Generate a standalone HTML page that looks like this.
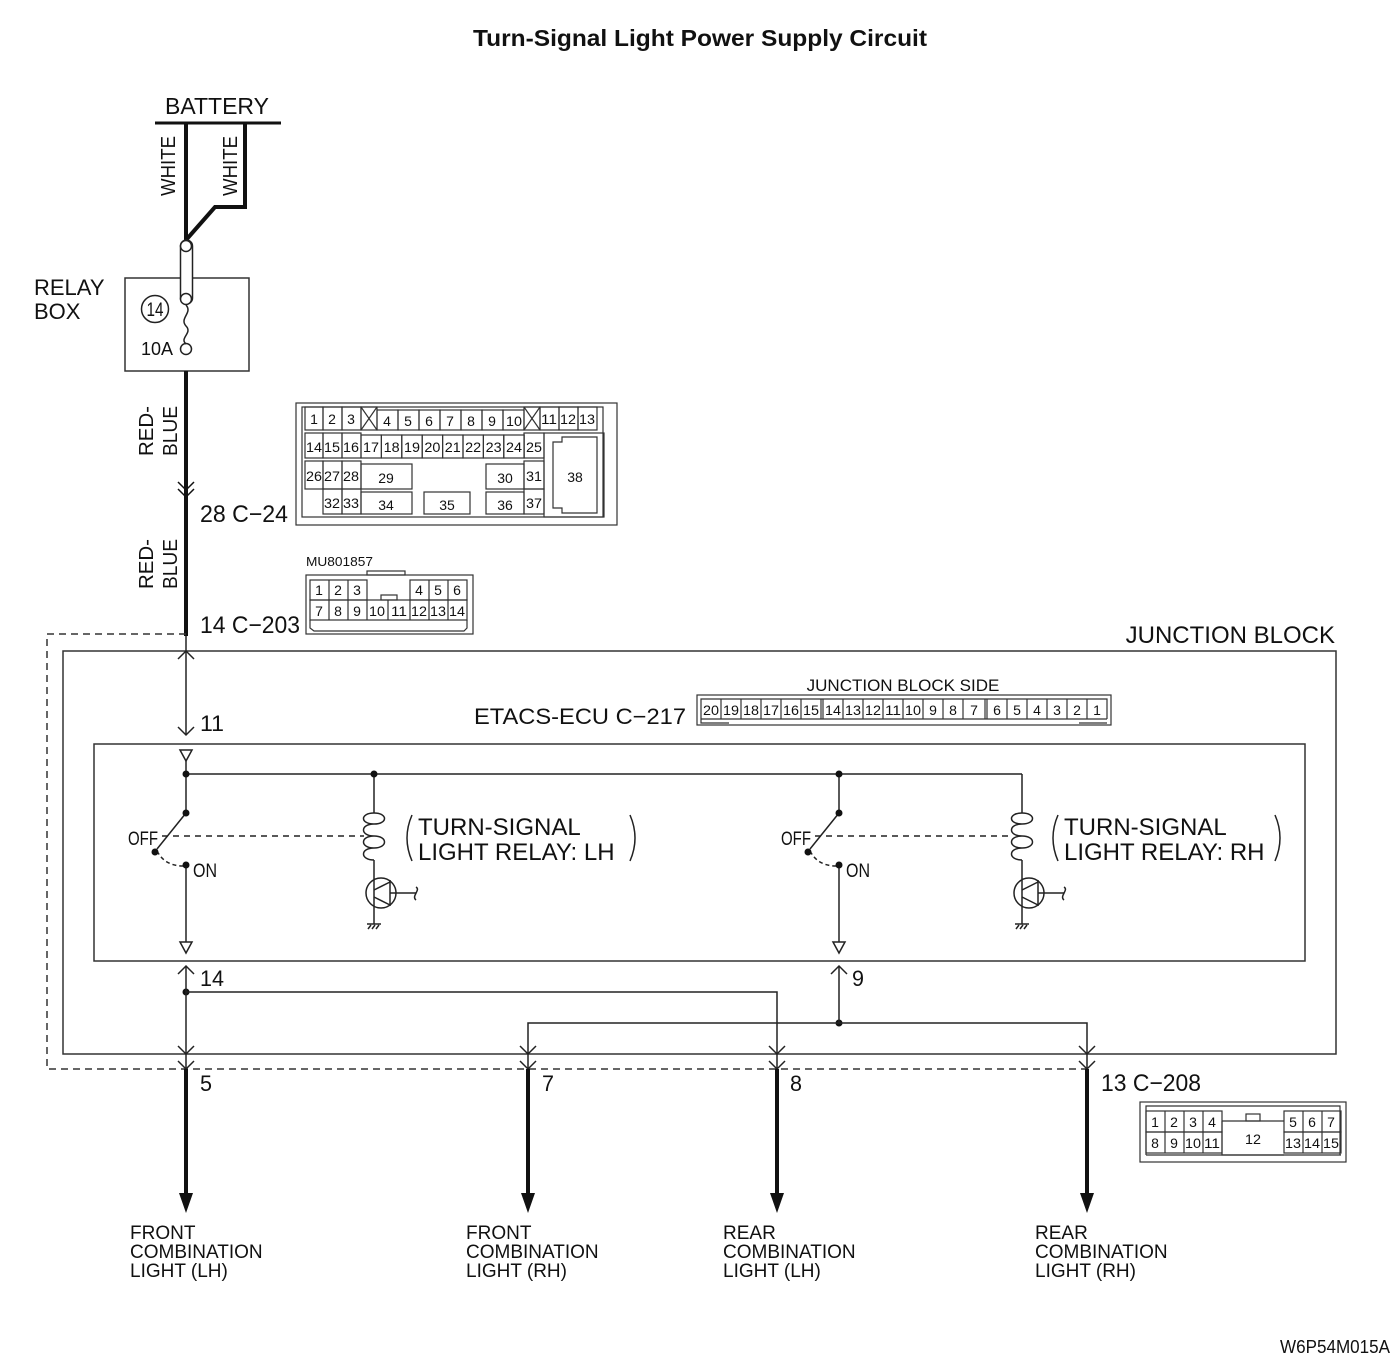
<!DOCTYPE html>
<html><head><meta charset="utf-8"><style>
html,body{margin:0;padding:0;background:#fff}
svg{display:block}
text{font-family:"Liberation Sans",sans-serif;fill:#111}
.c{font-size:14px}
</style></head><body>
<svg width="1400" height="1364" viewBox="0 0 1400 1364" xmlns="http://www.w3.org/2000/svg">
<text x="473" y="46" font-size="23" font-weight="bold" textLength="454" lengthAdjust="spacingAndGlyphs">Turn-Signal Light Power Supply Circuit</text>

<!-- battery -->
<text x="217" y="114" text-anchor="middle" font-size="23">BATTERY</text>
<line x1="155" y1="123" x2="281" y2="123" stroke="#111" stroke-width="3"/>
<polyline points="186,123 186,246" stroke="#111" stroke-width="4" fill="none"/>
<polyline points="245,123 245,207 215,207 186,240" stroke="#111" stroke-width="4" fill="none"/>
<text transform="translate(175,196) rotate(-90)" font-size="20" textLength="60" lengthAdjust="spacingAndGlyphs">WHITE</text>
<text transform="translate(237,196) rotate(-90)" font-size="20" textLength="60" lengthAdjust="spacingAndGlyphs">WHITE</text>

<!-- relay box -->
<text x="34" y="295" font-size="22">RELAY</text>
<text x="34" y="319" font-size="22">BOX</text>
<rect x="125" y="278" width="124" height="93" fill="none" stroke="#333" stroke-width="1.5"/>
<rect x="180.5" y="240" width="12" height="64" rx="6" fill="#fff" stroke="#222" stroke-width="1.5"/>
<circle cx="186" cy="246" r="5.5" fill="#fff" stroke="#222" stroke-width="1.5"/>
<circle cx="186" cy="299" r="5.5" fill="#fff" stroke="#222" stroke-width="1.5"/>
<circle cx="186" cy="349" r="5.5" fill="#fff" stroke="#222" stroke-width="1.5"/>
<path d="M186,305 C193,313 179,318 186,326 C193,333 179,338 186,344" fill="none" stroke="#222" stroke-width="1.5"/>
<circle cx="155" cy="309" r="13.5" fill="none" stroke="#222" stroke-width="1.5"/>
<text x="155" y="316" text-anchor="middle" font-size="19" textLength="17" lengthAdjust="spacingAndGlyphs">14</text>
<text x="141" y="355" font-size="18" textLength="32" lengthAdjust="spacingAndGlyphs">10A</text>

<!-- red-blue wire -->
<line x1="186" y1="371" x2="186" y2="636" stroke="#111" stroke-width="4"/>
<text transform="translate(153,456) rotate(-90)" font-size="20" textLength="50" lengthAdjust="spacingAndGlyphs">RED-</text>
<text transform="translate(177,456) rotate(-90)" font-size="20" textLength="50" lengthAdjust="spacingAndGlyphs">BLUE</text>
<text transform="translate(153,589) rotate(-90)" font-size="20" textLength="50" lengthAdjust="spacingAndGlyphs">RED-</text>
<text transform="translate(177,589) rotate(-90)" font-size="20" textLength="50" lengthAdjust="spacingAndGlyphs">BLUE</text>
<polyline points="178,482 186,490 194,482" fill="none" stroke="#111" stroke-width="1.5"/>
<polyline points="178,489 186,497 194,489" fill="none" stroke="#111" stroke-width="1.5"/>
<text x="200" y="522" font-size="24" textLength="88" lengthAdjust="spacingAndGlyphs">28 C−24</text>
<text x="200" y="633" font-size="24" textLength="100" lengthAdjust="spacingAndGlyphs">14 C−203</text>

<!-- C-24 connector -->
<g stroke="#333" stroke-width="1.2" fill="none">
<rect x="296" y="403" width="321" height="122"/>
<rect x="302" y="407" width="301" height="110"/>
<rect x="305" y="407" width="18" height="23"/><rect x="323" y="407" width="19" height="23"/><rect x="342" y="407" width="19" height="23"/>
<rect x="361" y="407" width="16" height="23"/><line x1="361" y1="407" x2="377" y2="430"/><line x1="377" y1="407" x2="361" y2="430"/>
<rect x="377" y="410" width="21" height="20"/><rect x="398" y="410" width="21" height="20"/><rect x="419" y="410" width="21" height="20"/><rect x="440" y="410" width="21" height="20"/><rect x="461" y="410" width="21" height="20"/><rect x="482" y="410" width="21" height="20"/><rect x="503" y="410" width="21" height="20"/>
<rect x="524" y="407" width="16" height="23"/><line x1="524" y1="407" x2="540" y2="430"/><line x1="540" y1="407" x2="524" y2="430"/>
<rect x="540" y="407" width="19" height="23"/><rect x="559" y="407" width="19" height="23"/><rect x="578" y="407" width="19" height="23"/>
<rect x="305" y="433" width="18" height="25"/><rect x="323" y="433" width="19" height="25"/><rect x="342" y="433" width="19" height="25"/>
<rect x="361" y="435" width="20.4" height="23"/><rect x="381.4" y="435" width="20.4" height="23"/><rect x="401.8" y="435" width="20.4" height="23"/><rect x="422.2" y="435" width="20.4" height="23"/><rect x="442.6" y="435" width="20.4" height="23"/><rect x="463" y="435" width="20.4" height="23"/><rect x="483.4" y="435" width="20.4" height="23"/><rect x="503.8" y="435" width="20.4" height="23"/>
<rect x="524" y="433" width="20" height="25"/>
<rect x="305" y="461" width="18" height="28"/><rect x="323" y="461" width="19" height="28"/><rect x="342" y="461" width="19" height="28"/>
<rect x="361" y="464" width="51" height="25"/><rect x="486" y="464" width="38" height="25"/><rect x="524" y="461" width="20" height="28"/>
<rect x="323" y="489" width="19" height="25"/><rect x="342" y="489" width="19" height="25"/>
<rect x="361" y="492" width="51" height="22"/><rect x="424" y="492" width="46" height="22"/><rect x="486" y="492" width="38" height="22"/><rect x="524" y="489" width="20" height="25"/>
<rect x="544" y="433" width="60" height="84"/>
<path d="M553,442 L562,442 L562,437 L597,437 L597,513 L562,513 L562,508 L553,508 Z"/>
</g>
<g class="c" text-anchor="middle">
<text x="314" y="424">1</text><text x="332" y="424">2</text><text x="351" y="424">3</text>
<text x="387" y="426">4</text><text x="408" y="426">5</text><text x="429" y="426">6</text><text x="450" y="426">7</text><text x="471" y="426">8</text><text x="492" y="426">9</text><text x="514" y="426" textLength="16" lengthAdjust="spacingAndGlyphs">10</text>
<text x="549" y="424" textLength="16" lengthAdjust="spacingAndGlyphs">11</text><text x="568" y="424" textLength="16" lengthAdjust="spacingAndGlyphs">12</text><text x="587" y="424" textLength="16" lengthAdjust="spacingAndGlyphs">13</text>
<text x="314" y="452" textLength="16" lengthAdjust="spacingAndGlyphs">14</text><text x="332" y="452" textLength="16" lengthAdjust="spacingAndGlyphs">15</text><text x="351" y="452" textLength="16" lengthAdjust="spacingAndGlyphs">16</text>
<text x="371" y="452" textLength="16" lengthAdjust="spacingAndGlyphs">17</text><text x="391.6" y="452" textLength="16" lengthAdjust="spacingAndGlyphs">18</text><text x="412" y="452" textLength="16" lengthAdjust="spacingAndGlyphs">19</text><text x="432.4" y="452" textLength="16" lengthAdjust="spacingAndGlyphs">20</text><text x="452.8" y="452" textLength="16" lengthAdjust="spacingAndGlyphs">21</text><text x="473.2" y="452" textLength="16" lengthAdjust="spacingAndGlyphs">22</text><text x="493.6" y="452" textLength="16" lengthAdjust="spacingAndGlyphs">23</text><text x="514" y="452" textLength="16" lengthAdjust="spacingAndGlyphs">24</text>
<text x="534" y="452" textLength="16" lengthAdjust="spacingAndGlyphs">25</text>
<text x="314" y="481" textLength="16" lengthAdjust="spacingAndGlyphs">26</text><text x="332" y="481" textLength="16" lengthAdjust="spacingAndGlyphs">27</text><text x="351" y="481" textLength="16" lengthAdjust="spacingAndGlyphs">28</text>
<text x="386" y="483">29</text><text x="505" y="483">30</text><text x="534" y="481" textLength="16" lengthAdjust="spacingAndGlyphs">31</text>
<text x="332" y="508" textLength="16" lengthAdjust="spacingAndGlyphs">32</text><text x="351" y="508" textLength="16" lengthAdjust="spacingAndGlyphs">33</text>
<text x="386" y="510">34</text><text x="447" y="510">35</text><text x="505" y="510">36</text><text x="534" y="508" textLength="16" lengthAdjust="spacingAndGlyphs">37</text>
<text x="575" y="482">38</text>
</g>

<!-- MU801857 -->
<text x="306" y="566" font-size="13" textLength="67" lengthAdjust="spacingAndGlyphs">MU801857</text>
<g stroke="#333" stroke-width="1.2" fill="none">
<rect x="306" y="575" width="167" height="59"/>
<rect x="367" y="571" width="38" height="4"/>
<rect x="310" y="580" width="57" height="20"/><line x1="329" y1="580" x2="329" y2="620"/><line x1="348" y1="580" x2="348" y2="620"/>
<rect x="410" y="580" width="57" height="20"/><line x1="429" y1="580" x2="429" y2="620"/><line x1="448" y1="580" x2="448" y2="620"/>
<rect x="310" y="600" width="157" height="20"/><line x1="367" y1="600" x2="367" y2="620"/><line x1="388" y1="600" x2="388" y2="620"/><line x1="410" y1="600" x2="410" y2="620"/>
<rect x="381" y="595" width="16" height="5"/>
<path d="M310,620 L310,628 L314,631 L464,631 L467,628 L467,620"/>
</g>
<g class="c" text-anchor="middle">
<text x="319" y="595">1</text><text x="338" y="595">2</text><text x="357" y="595">3</text><text x="419" y="595">4</text><text x="438" y="595">5</text><text x="457" y="595">6</text>
<text x="319" y="616">7</text><text x="338" y="616">8</text><text x="357" y="616">9</text><text x="377" y="616" textLength="16" lengthAdjust="spacingAndGlyphs">10</text><text x="399" y="616" textLength="16" lengthAdjust="spacingAndGlyphs">11</text><text x="419" y="616" textLength="16" lengthAdjust="spacingAndGlyphs">12</text><text x="438" y="616" textLength="16" lengthAdjust="spacingAndGlyphs">13</text><text x="457" y="616" textLength="16" lengthAdjust="spacingAndGlyphs">14</text>
</g>

<!-- dashed outline -->
<polyline points="186,634 47,634 47,1069 1087,1069" fill="none" stroke="#333" stroke-width="1.5" stroke-dasharray="7,5"/>
<rect x="63" y="651" width="1273" height="403" fill="none" stroke="#333" stroke-width="1.5"/>
<text x="1335" y="643" text-anchor="end" font-size="24">JUNCTION BLOCK</text>

<line x1="186" y1="636" x2="186" y2="735" stroke="#222" stroke-width="1.5"/>
<polyline points="178,659 186,651 194,659" fill="none" stroke="#222" stroke-width="1.5"/>
<polyline points="178,727 186,735 194,727" fill="none" stroke="#222" stroke-width="1.5"/>
<text x="200" y="731" font-size="22" textLength="24" lengthAdjust="spacingAndGlyphs">11</text>

<text x="474" y="724" font-size="22" textLength="212" lengthAdjust="spacingAndGlyphs">ETACS-ECU C−217</text>
<text x="903" y="691" text-anchor="middle" font-size="17">JUNCTION BLOCK SIDE</text>
<g stroke="#333" stroke-width="1.2" fill="none">
<rect x="697" y="695" width="414" height="30"/>
<path d="M701,719 L701,699 L1107,699 L1107,719"/>
<line x1="701" y1="719" x2="1107" y2="719"/>
<path d="M701,719 L701,723 L729,723 M1079,723 L1107,723"/>
</g>
<g stroke="#333" stroke-width="1.2">
<line x1="721" y1="699" x2="721" y2="719"/><line x1="741" y1="699" x2="741" y2="719"/><line x1="761" y1="699" x2="761" y2="719"/><line x1="781" y1="699" x2="781" y2="719"/><line x1="801" y1="699" x2="801" y2="719"/><line x1="821" y1="699" x2="821" y2="719"/><line x1="823" y1="699" x2="823" y2="719"/><line x1="843" y1="699" x2="843" y2="719"/><line x1="863" y1="699" x2="863" y2="719"/><line x1="883" y1="699" x2="883" y2="719"/><line x1="903" y1="699" x2="903" y2="719"/><line x1="923" y1="699" x2="923" y2="719"/><line x1="943" y1="699" x2="943" y2="719"/><line x1="963" y1="699" x2="963" y2="719"/><line x1="985" y1="699" x2="985" y2="719"/><line x1="987" y1="699" x2="987" y2="719"/><line x1="1007" y1="699" x2="1007" y2="719"/><line x1="1027" y1="699" x2="1027" y2="719"/><line x1="1047" y1="699" x2="1047" y2="719"/><line x1="1067" y1="699" x2="1067" y2="719"/><line x1="1087" y1="699" x2="1087" y2="719"/>
</g>
<g class="c" text-anchor="middle">
<text x="711" y="715" textLength="16" lengthAdjust="spacingAndGlyphs">20</text><text x="731" y="715" textLength="16" lengthAdjust="spacingAndGlyphs">19</text><text x="751" y="715" textLength="16" lengthAdjust="spacingAndGlyphs">18</text><text x="771" y="715" textLength="16" lengthAdjust="spacingAndGlyphs">17</text><text x="791" y="715" textLength="16" lengthAdjust="spacingAndGlyphs">16</text><text x="811" y="715" textLength="16" lengthAdjust="spacingAndGlyphs">15</text>
<text x="833" y="715" textLength="16" lengthAdjust="spacingAndGlyphs">14</text><text x="853" y="715" textLength="16" lengthAdjust="spacingAndGlyphs">13</text><text x="873" y="715" textLength="16" lengthAdjust="spacingAndGlyphs">12</text><text x="893" y="715" textLength="16" lengthAdjust="spacingAndGlyphs">11</text><text x="913" y="715" textLength="16" lengthAdjust="spacingAndGlyphs">10</text><text x="933" y="715">9</text><text x="953" y="715">8</text><text x="974" y="715">7</text>
<text x="997" y="715">6</text><text x="1017" y="715">5</text><text x="1037" y="715">4</text><text x="1057" y="715">3</text><text x="1077" y="715">2</text><text x="1097" y="715">1</text>
</g>

<rect x="94" y="744" width="1211" height="217" fill="none" stroke="#333" stroke-width="1.5"/>

<g stroke="#222" stroke-width="1.5" fill="none">
<polygon points="180,750 192,750 186,761" fill="#fff"/>
<line x1="186" y1="761" x2="186" y2="813"/>
<line x1="186" y1="774" x2="1022" y2="774"/>
<line x1="186" y1="813" x2="157" y2="849"/>
<path d="M157,851 Q165,866 183,866" stroke-dasharray="4,3"/>
<line x1="186" y1="865" x2="186" y2="942"/>
<polygon points="180,942 192,942 186,953" fill="#fff"/>
<line x1="162" y1="836" x2="364" y2="836" stroke-dasharray="6,5"/>
<line x1="374" y1="774" x2="374" y2="813"/>
<path d="M374,813 C360,813 360,824 374,824 C360,824 360,836 374,836 C360,836 360,848 374,848 C388,848 388,836 374,836 M374,824 C388,824 388,813 374,813 M374,848 C360,848 360,860 374,860"/>
<line x1="374" y1="860" x2="374" y2="882"/>
<circle cx="381" cy="893" r="15"/>
<line x1="374" y1="882" x2="374" y2="924"/>
<line x1="374" y1="890" x2="390" y2="882"/>
<line x1="374" y1="897" x2="390" y2="905"/>
<line x1="390" y1="880" x2="390" y2="906"/>
<line x1="390" y1="893" x2="416" y2="893"/>
<path d="M416,887 C421,890 411,896 416,900"/>
<line x1="367" y1="924" x2="381" y2="924"/>
<line x1="368" y1="929" x2="371" y2="925"/><line x1="372" y1="929" x2="375" y2="925"/><line x1="376" y1="929" x2="379" y2="925"/>
<polygon points="833,942 845,942 839,953" fill="#fff"/>
<line x1="839" y1="774" x2="839" y2="813"/>
<line x1="839" y1="813" x2="810" y2="849"/>
<path d="M810,851 Q818,866 836,866" stroke-dasharray="4,3"/>
<line x1="839" y1="865" x2="839" y2="942"/>
<line x1="815" y1="836" x2="1012" y2="836" stroke-dasharray="6,5"/>
<line x1="1022" y1="774" x2="1022" y2="813"/>
<path d="M1022,813 C1008,813 1008,824 1022,824 C1008,824 1008,836 1022,836 C1008,836 1008,848 1022,848 C1036,848 1036,836 1022,836 M1022,824 C1036,824 1036,813 1022,813 M1022,848 C1008,848 1008,860 1022,860"/>
<line x1="1022" y1="860" x2="1022" y2="882"/>
<circle cx="1029" cy="893" r="15"/>
<line x1="1022" y1="882" x2="1022" y2="924"/>
<line x1="1022" y1="890" x2="1038" y2="882"/>
<line x1="1022" y1="897" x2="1038" y2="905"/>
<line x1="1038" y1="880" x2="1038" y2="906"/>
<line x1="1038" y1="893" x2="1064" y2="893"/>
<path d="M1064,887 C1069,890 1059,896 1064,900"/>
<line x1="1015" y1="924" x2="1029" y2="924"/>
<line x1="1016" y1="929" x2="1019" y2="925"/><line x1="1020" y1="929" x2="1023" y2="925"/><line x1="1024" y1="929" x2="1027" y2="925"/>
<path d="M412,815 Q402,838 412,861"/>
<path d="M630,815 Q640,838 630,861"/>
<path d="M1058,815 Q1048,838 1058,861"/>
<path d="M1275,815 Q1285,838 1275,861"/>
</g>
<g fill="#111">
<circle cx="186" cy="774" r="3.5"/><circle cx="374" cy="774" r="3.5"/><circle cx="186" cy="813" r="3.5"/><circle cx="155" cy="852" r="3.5"/><circle cx="186" cy="865" r="3.5"/>
<circle cx="839" cy="774" r="3.5"/><circle cx="839" cy="813" r="3.5"/><circle cx="808" cy="852" r="3.5"/><circle cx="839" cy="865" r="3.5"/>
<circle cx="186" cy="992" r="3.5"/><circle cx="839" cy="1023" r="3.5"/>
</g>
<text x="128" y="845" font-size="19" textLength="30" lengthAdjust="spacingAndGlyphs">OFF</text>
<text x="193" y="877" font-size="19" textLength="24" lengthAdjust="spacingAndGlyphs">ON</text>
<text x="781" y="845" font-size="19" textLength="30" lengthAdjust="spacingAndGlyphs">OFF</text>
<text x="846" y="877" font-size="19" textLength="24" lengthAdjust="spacingAndGlyphs">ON</text>
<text x="418" y="835" font-size="24">TURN-SIGNAL</text>
<text x="418" y="860" font-size="24">LIGHT RELAY: LH</text>
<text x="1064" y="835" font-size="24">TURN-SIGNAL</text>
<text x="1064" y="860" font-size="24">LIGHT RELAY: RH</text>

<g stroke="#222" stroke-width="1.5" fill="none">
<line x1="186" y1="966" x2="186" y2="1069"/>
<polyline points="178,974 186,966 194,974"/>
<polyline points="186,992 777,992 777,1069"/>
<line x1="839" y1="966" x2="839" y2="1023"/>
<polyline points="831,974 839,966 847,974"/>
<polyline points="528,1069 528,1023 1087,1023 1087,1069"/>
<polyline points="178,1046 186,1054 194,1046"/><polyline points="178,1061 186,1069 194,1061"/>
<polyline points="520,1046 528,1054 536,1046"/><polyline points="520,1061 528,1069 536,1061"/>
<polyline points="769,1046 777,1054 785,1046"/><polyline points="769,1061 777,1069 785,1061"/>
<polyline points="1079,1046 1087,1054 1095,1046"/><polyline points="1079,1061 1087,1069 1095,1061"/>
</g>
<text x="200" y="986" font-size="22" textLength="24" lengthAdjust="spacingAndGlyphs">14</text>
<text x="852" y="986" font-size="22" textLength="12" lengthAdjust="spacingAndGlyphs">9</text>
<g stroke="#111" stroke-width="4">
<line x1="186" y1="1069" x2="186" y2="1196"/><line x1="528" y1="1069" x2="528" y2="1196"/><line x1="777" y1="1069" x2="777" y2="1196"/><line x1="1087" y1="1069" x2="1087" y2="1196"/>
</g>
<g fill="#111">
<polygon points="179,1193 193,1193 186,1213"/><polygon points="521,1193 535,1193 528,1213"/><polygon points="770,1193 784,1193 777,1213"/><polygon points="1080,1193 1094,1193 1087,1213"/>
</g>
<text x="200" y="1091" font-size="22" textLength="12" lengthAdjust="spacingAndGlyphs">5</text>
<text x="542" y="1091" font-size="22" textLength="12" lengthAdjust="spacingAndGlyphs">7</text>
<text x="790" y="1091" font-size="22" textLength="12" lengthAdjust="spacingAndGlyphs">8</text>
<text x="1101" y="1091" font-size="24" textLength="100" lengthAdjust="spacingAndGlyphs">13 C−208</text>

<g stroke="#333" stroke-width="1.2" fill="none">
<rect x="1140" y="1102" width="206" height="60"/>
<path d="M1146,1155 L1146,1106 L1340,1106 L1340,1155"/>
<rect x="1146" y="1111" width="76" height="21"/><rect x="1146" y="1132" width="76" height="21"/>
<line x1="1165" y1="1111" x2="1165" y2="1153"/><line x1="1184" y1="1111" x2="1184" y2="1153"/><line x1="1203" y1="1111" x2="1203" y2="1153"/>
<rect x="1284" y="1111" width="57" height="21"/><rect x="1284" y="1132" width="57" height="21"/>
<line x1="1303" y1="1111" x2="1303" y2="1153"/><line x1="1322" y1="1111" x2="1322" y2="1153"/>
<path d="M1222,1121 L1284,1121 M1222,1121 L1222,1155 L1284,1155"/>
<rect x="1246" y="1114" width="14" height="7"/>
<line x1="1146" y1="1155" x2="1341" y2="1155"/>
</g>
<g class="c" text-anchor="middle">
<text x="1155" y="1127">1</text><text x="1174" y="1127">2</text><text x="1193" y="1127">3</text><text x="1212" y="1127">4</text>
<text x="1293" y="1127">5</text><text x="1312" y="1127">6</text><text x="1331" y="1127">7</text>
<text x="1155" y="1148">8</text><text x="1174" y="1148">9</text><text x="1193" y="1148" textLength="16" lengthAdjust="spacingAndGlyphs">10</text><text x="1212" y="1148" textLength="16" lengthAdjust="spacingAndGlyphs">11</text>
<text x="1253" y="1144" textLength="16" lengthAdjust="spacingAndGlyphs">12</text>
<text x="1293" y="1148" textLength="16" lengthAdjust="spacingAndGlyphs">13</text><text x="1312" y="1148" textLength="16" lengthAdjust="spacingAndGlyphs">14</text><text x="1331" y="1148" textLength="16" lengthAdjust="spacingAndGlyphs">15</text>
</g>

<g font-size="19">
<text x="130" y="1239">FRONT</text><text x="130" y="1258">COMBINATION</text><text x="130" y="1277">LIGHT (LH)</text>
<text x="466" y="1239">FRONT</text><text x="466" y="1258">COMBINATION</text><text x="466" y="1277">LIGHT (RH)</text>
<text x="723" y="1239">REAR</text><text x="723" y="1258">COMBINATION</text><text x="723" y="1277">LIGHT (LH)</text>
<text x="1035" y="1239">REAR</text><text x="1035" y="1258">COMBINATION</text><text x="1035" y="1277">LIGHT (RH)</text>
</g>
<text x="1390" y="1353" text-anchor="end" font-size="18" textLength="110" lengthAdjust="spacingAndGlyphs">W6P54M015A</text>
</svg>
</body></html>
